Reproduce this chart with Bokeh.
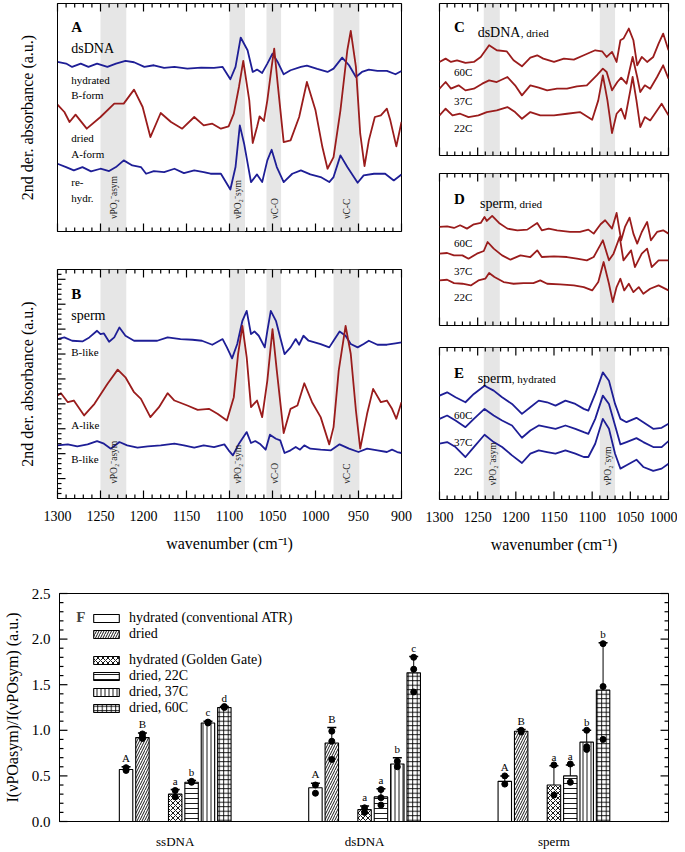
from bokeh.plotting import figure
from bokeh.layouts import column, row
from bokeh.models import (Range1d, FixedTicker, NumeralTickFormatter, BoxAnnotation, Label,
                          Legend, LegendItem, Whisker, TeeHead, ColumnDataSource)
from bokeh.core.properties import value
from bokeh.embed import file_html
from bokeh.resources import INLINE

FONT = "Liberation Serif"
BLUE = "#1e1e96"
RED = "#9a1c1c"
BAND = "#e6e6e6"

# ------------------------------------------------------------------ data: panel A (dsDNA)
A_HYD_WN = [1300, 1290, 1283, 1273, 1264, 1254, 1242, 1232, 1221, 1211, 1199, 1188, 1176, 1164, 1149,
            1133, 1118, 1108, 1099, 1093, 1087, 1079, 1073, 1068, 1062, 1056, 1050, 1044, 1037, 1029,
            1017, 1010, 998, 986, 979, 969, 961, 953, 946, 938, 928, 917, 907, 900]
A_HYD = [51.5, 51.0, 50.0, 51.0, 50.0, 51.0, 50.0, 51.0, 51.8, 51.4, 50.0, 50.5, 49.7, 50.0, 49.5,
         49.8, 49.7, 50.0, 46.3, 50.0, 58.8, 55.0, 48.5, 49.2, 48.2, 51.0, 54.0, 51.5, 47.8, 49.0,
         50.0, 50.4, 49.4, 48.5, 49.5, 52.8, 50.5, 47.0, 48.5, 49.2, 48.8, 48.8, 47.8, 48.8]
A_DRY_WN = [1300, 1292, 1286, 1279, 1266, 1250, 1234, 1223, 1211, 1201, 1192, 1180, 1168, 1155, 1141,
            1130, 1120, 1110, 1101, 1095, 1089, 1084, 1077, 1073, 1068, 1065, 1060, 1056, 1051, 1048,
            1044, 1037, 1029, 1019, 1010, 1000, 992, 986, 979, 971, 963, 959, 953, 948, 943, 938,
            931, 924, 917, 913, 906, 900]
A_DRY = [38.7, 36.5, 33.5, 35.7, 31.5, 35.0, 39.0, 39.0, 43.2, 38.0, 29.0, 36.2, 33.5, 31.5, 35.0,
         32.5, 33.0, 31.5, 32.2, 36.0, 44.0, 51.8, 40.0, 27.2, 32.0, 35.2, 33.8, 40.0, 50.0, 55.5,
         45.0, 27.5, 28.0, 35.0, 45.5, 37.0, 26.0, 19.5, 23.0, 37.0, 55.0, 60.8, 50.0, 30.0, 20.3, 28.0,
         35.0, 35.5, 37.5, 34.0, 26.2, 33.5]
A_REH_WN = [1300, 1290, 1281, 1271, 1261, 1250, 1240, 1232, 1223, 1213, 1203, 1197, 1188, 1176, 1164,
            1153, 1141, 1130, 1122, 1110, 1099, 1093, 1088, 1083, 1075, 1068, 1062, 1056, 1051, 1045,
            1037, 1027, 1017, 1006, 994, 984, 979, 971, 963, 951, 944, 932, 919, 909, 900]
A_REH = [21.0, 20.0, 19.0, 20.0, 18.7, 19.5, 18.8, 20.0, 22.0, 20.5, 20.0, 18.0, 18.8, 18.5, 19.5,
         18.2, 19.0, 18.5, 18.0, 18.0, 13.3, 20.0, 32.5, 27.0, 15.5, 17.8, 15.5, 22.0, 25.2, 20.0,
         15.5, 18.0, 19.0, 17.8, 17.0, 15.5, 17.0, 23.5, 20.0, 15.3, 17.5, 18.0, 18.0, 16.0, 17.8]

# ------------------------------------------------------------------ data: panel B (sperm)
B_HYD1_WN = [1300, 1292, 1283, 1271, 1263, 1254, 1250, 1246, 1240, 1234, 1228, 1221, 1211, 1195, 1184,
             1172, 1157, 1143, 1132, 1120, 1108, 1103, 1097, 1091, 1085, 1080, 1075, 1071, 1066, 1059,
             1056, 1052, 1046, 1041, 1036, 1029, 1023, 1019, 1014, 1008, 994, 984, 979, 972, 965,
             959, 951, 944, 938, 928, 917, 907, 900]
B_HYD1 = [49.5, 50.0, 49.0, 48.8, 50.0, 52.0, 51.0, 51.2, 48.7, 50.0, 53.0, 50.5, 49.0, 49.0, 49.0,
          50.0, 49.5, 49.3, 49.0, 47.8, 49.5, 47.0, 43.7, 48.0, 55.0, 58.0, 51.0, 51.8, 50.5, 47.0,
          52.0, 58.0, 55.0, 50.0, 45.0, 47.0, 49.5, 47.8, 50.5, 49.0, 48.0, 47.0, 49.0, 51.8, 50.5,
          48.0, 47.0, 48.0, 49.0, 47.8, 47.8, 48.2, 48.5]
B_DRY_WN = [1300, 1296, 1288, 1281, 1269, 1257, 1242, 1230, 1221, 1211, 1203, 1192, 1182, 1172, 1164,
            1149, 1137, 1124, 1114, 1103, 1095, 1090, 1085, 1080, 1075, 1068, 1062, 1056, 1050, 1045,
            1037, 1029, 1021, 1013, 1004, 994, 984, 979, 973, 965, 959, 953, 948, 940, 933,
            924, 917, 911, 906, 900]
B_DRY = [32.5, 33.2, 30.5, 31.0, 26.5, 30.0, 36.0, 40.3, 38.0, 33.5, 31.5, 26.0, 29.0, 33.2, 31.0,
         29.5, 28.2, 28.5, 27.0, 25.0, 32.0, 45.0, 53.5, 44.0, 29.0, 31.0, 26.0, 37.0, 52.5, 40.0,
         21.2, 28.5, 29.5, 36.2, 30.5, 26.0, 17.8, 23.0, 40.0, 53.5, 45.0, 28.0, 16.5, 27.0, 34.5,
         30.5, 31.0, 28.5, 25.5, 30.5]
B_HYD2_WN = [1300, 1288, 1277, 1265, 1254, 1246, 1238, 1228, 1219, 1207, 1195, 1180, 1164, 1153, 1141,
             1130, 1118, 1106, 1101, 1096, 1089, 1080, 1075, 1070, 1064, 1058, 1053, 1046, 1041, 1036,
             1029, 1023, 1018, 1013, 1006, 994, 982, 972, 961, 950, 940, 928, 917, 911, 905, 900]
B_HYD2 = [17.5, 17.8, 17.2, 17.8, 18.8, 18.0, 16.5, 18.5, 17.5, 16.8, 17.2, 17.5, 18.0, 17.5, 16.8,
          17.5, 17.0, 17.8, 16.0, 14.5, 18.0, 21.5, 18.2, 18.8, 17.8, 16.2, 20.7, 19.5, 19.0, 15.2,
          16.0, 17.0, 16.2, 17.5, 16.5, 16.2, 16.0, 17.8, 16.5, 15.5, 16.5, 16.0, 15.5, 16.2, 15.5, 15.2]

# ------------------------------------------------------------------ data: panel C (dsDNA, dried)
C60_WN = [1300, 1292, 1285, 1277, 1266, 1255, 1246, 1235, 1225, 1212, 1203, 1192, 1181, 1172, 1164,
          1150, 1137, 1124, 1111, 1096, 1087, 1081, 1074, 1068, 1063, 1059, 1052, 1046, 1041, 1035,
          1028, 1020, 1013, 1007, 1000]
C60 = [31.5, 32.5, 31.5, 32.0, 31.2, 31.5, 33.0, 36.5, 35.0, 34.7, 32.0, 30.2, 32.8, 33.5, 32.5,
       31.5, 32.5, 32.2, 33.5, 35.0, 34.7, 33.0, 34.5, 31.5, 38.0, 38.5, 41.5, 38.0, 30.5, 33.0,
       31.5, 33.0, 37.0, 40.0, 35.0]
C37_WN = [1300, 1292, 1285, 1275, 1266, 1255, 1244, 1235, 1225, 1211, 1201, 1192, 1181, 1170, 1159,
          1146, 1133, 1120, 1107, 1094, 1086, 1081, 1074, 1067, 1062, 1055, 1047, 1041, 1037, 1031,
          1024, 1015, 1007, 1000]
C37 = [23.5, 25.5, 23.5, 24.5, 23.0, 23.5, 25.0, 26.0, 25.5, 27.0, 24.5, 21.5, 24.5, 23.8, 23.0,
       23.5, 23.5, 24.2, 24.5, 27.5, 29.5, 28.5, 23.0, 25.5, 26.8, 25.0, 33.0, 27.0, 22.5, 24.5,
       23.5, 27.0, 30.5, 26.5]
C22_WN = [1300, 1292, 1283, 1273, 1262, 1249, 1238, 1225, 1211, 1201, 1192, 1181, 1168, 1150, 1133,
          1116, 1100, 1092, 1086, 1080, 1074, 1068, 1062, 1057, 1050, 1047, 1042, 1037, 1031, 1024,
          1015, 1009, 1000]
C22 = [15.5, 17.5, 15.5, 16.0, 15.0, 15.5, 16.5, 17.0, 18.0, 16.5, 14.5, 16.5, 15.5, 15.5, 16.0,
       16.5, 14.2, 20.0, 27.5, 20.0, 10.2, 16.0, 17.5, 14.5, 23.0, 27.0, 20.0, 12.0, 15.0, 14.0,
       17.0, 19.0, 15.5]

# ------------------------------------------------------------------ data: panel D (sperm, dried)
D60_WN = [1300, 1290, 1281, 1273, 1264, 1255, 1246, 1241, 1238, 1231, 1222, 1211, 1198, 1185, 1172,
          1166, 1157, 1146, 1129, 1116, 1105, 1098, 1089, 1083, 1074, 1068, 1062, 1057, 1051, 1046,
          1041, 1035, 1028, 1023, 1015, 1007, 1000]
D60 = [32.0, 32.2, 31.7, 32.5, 31.5, 32.8, 33.2, 35.0, 33.8, 35.3, 33.2, 31.5, 31.0, 31.2, 33.2,
       31.0, 31.5, 31.0, 30.5, 30.5, 31.2, 30.0, 32.8, 34.0, 31.5, 36.2, 28.0, 32.0, 34.8, 30.0,
       27.0, 30.5, 33.5, 28.0, 30.5, 31.0, 30.0]
D37_WN = [1300, 1290, 1281, 1270, 1262, 1251, 1242, 1237, 1229, 1218, 1207, 1194, 1181, 1172, 1166,
          1150, 1133, 1120, 1107, 1098, 1086, 1078, 1072, 1064, 1059, 1054, 1049, 1044, 1035, 1028,
          1022, 1013, 1000]
D37 = [24.0, 24.2, 23.5, 23.5, 22.5, 24.0, 24.8, 27.5, 25.5, 23.5, 22.2, 23.5, 23.0, 25.0, 23.0,
       23.2, 23.0, 22.5, 22.0, 23.0, 28.0, 22.0, 24.0, 29.0, 22.0, 23.5, 25.0, 20.0, 24.0, 25.5,
       20.0, 22.0, 22.0]
D22_WN = [1300, 1290, 1281, 1270, 1259, 1249, 1240, 1235, 1228, 1216, 1203, 1190, 1177, 1168, 1159,
          1142, 1124, 1111, 1100, 1092, 1085, 1078, 1073, 1068, 1063, 1058, 1052, 1046, 1039, 1033,
          1024, 1013, 1000]
D22 = [16.0, 16.2, 15.2, 15.0, 14.5, 16.0, 16.5, 18.2, 17.0, 15.5, 15.0, 15.2, 15.2, 16.0, 15.0,
       14.8, 14.5, 14.0, 13.0, 15.5, 21.5, 15.0, 9.5, 14.0, 16.5, 13.0, 15.0, 12.5, 14.0, 12.0,
       13.5, 14.5, 13.0]

# ------------------------------------------------------------------ data: panel E (sperm, hydrated)
E_WN = [1300, 1290, 1279, 1266, 1255, 1241, 1229, 1218, 1205, 1192, 1181, 1170, 1159, 1148, 1135,
        1122, 1111, 1105, 1096, 1086, 1078, 1070, 1063, 1055, 1042, 1033, 1020, 1009, 1000]
E60 = [31.5, 32.5, 31.0, 29.5, 32.0, 34.5, 33.0, 31.0, 29.0, 26.0, 28.0, 30.0, 29.5, 28.5, 30.0,
       29.0, 27.5, 27.0, 32.0, 38.5, 36.0, 29.0, 24.5, 23.5, 24.8, 23.5, 21.5, 21.8, 23.0]
E37 = [24.5, 25.5, 24.0, 22.0, 24.5, 27.5, 25.5, 24.0, 22.5, 18.8, 21.0, 22.5, 22.0, 21.5, 22.5,
       21.5, 20.5, 20.0, 24.5, 31.5, 29.0, 22.5, 16.8, 17.5, 18.7, 17.5, 16.0, 16.0, 17.8]
E22 = [17.0, 17.5, 16.0, 13.0, 16.0, 19.7, 17.5, 16.0, 13.5, 11.2, 14.0, 15.0, 14.5, 14.0, 15.0,
       14.0, 13.0, 13.0, 17.0, 24.5, 21.5, 14.0, 9.5, 10.5, 12.2, 10.0, 8.8, 9.5, 11.0]

# marker bands (cm-1)
BANDS_AB = [(1250, 1220), (1100, 1082), (1057, 1040), (979, 949)]
BAND_TXT_AB = ["νPO₂⁻asym", "νPO₂⁻sym", "νC-O", "νC-C"]
BANDS_CDE = [(1242, 1221), (1090, 1070)]
BAND_TXT_E = ["νPO₂⁻asym", "νPO₂⁻sym"]
WN_TICK_LABELS_AB = [1300, 1250, 1200, 1150, 1100, 1050, 1000, 950, 900]
WN_TICK_LABELS_CDE = [1300, 1250, 1200, 1150, 1100, 1050, 1000]

# ------------------------------------------------------------------ data: panel F
CATEGORIES = ["ssDNA", "dsDNA", "sperm"]
CONDITIONS = ["hydrated (conventional ATR)", "dried", "hydrated (Golden Gate)",
              "dried, 22C", "dried, 37C", "dried, 60C"]
MEANS = [[0.57, 0.37, 0.44],
         [0.92, 0.86, 0.99],
         [0.30, 0.13, 0.40],
         [0.43, 0.27, 0.50],
         [1.08, 0.63, 0.87],
         [1.25, 1.63, 1.44]]
UPPER = [[0.60, 0.42, 0.50],
         [0.97, 1.03, 1.01],
         [0.35, 0.17, 0.61],
         [0.45, 0.36, 0.62],
         [1.10, 0.70, 1.00],
         [1.26, 1.81, 1.96]]
POINTS = [[[0.59, 0.56], [0.40, 0.31], [0.50, 0.41]],
          [[0.96, 0.91, 0.93], [0.99, 0.88, 0.68], [1.00, 0.98]],
          [[0.34, 0.27], [0.15, 0.10], [0.62, 0.29]],
          [[0.44, 0.43], [0.35, 0.26, 0.18], [0.63, 0.43]],
          [[1.09, 1.08], [0.66, 0.60], [1.00, 0.82, 0.79]],
          [[1.26, 1.25], [1.80, 1.67, 1.42], [1.95, 1.48, 0.90]]]
LETTERS = [["A", "A", "A"],
           ["B", "B", "B"],
           ["a", "a", "a"],
           ["b", "a", "a"],
           ["c", "b", "b"],
           ["d", "c", "b"]]
F_YTICKS = [0.0, 0.5, 1.0, 1.5, 2.0, 2.5]

# ------------------------------------------------------------------ styling helpers
SLOTS = [-3, -2, 0, 1, 2, 3]
PITCH = 0.0865
BAR_W = 0.071
HATCH = [(" ", 6), ("/", 5), ("x", 5), ("-", 5), ("|", 4), ("+", 4.5)]
MAJ_PX, MIN_PX = 8, 4   # inward tick lengths in pixels
TICK_W = 1.2


def edge_ticks(p, positions, rng, frame_px, edge_is_start, vertical, length_px,
               color="black", width=TICK_W):
    """short inward tick segments on a frame edge; rng = range (start, end) across the edge"""
    if not positions:
        return
    start, end = rng
    per_px = (end - start) / frame_px
    e0 = start if edge_is_start else end
    e1 = e0 + (length_px * per_px if edge_is_start else -length_px * per_px)
    n = len(positions)
    if vertical:
        src = ColumnDataSource(dict(x0=positions, y0=[e0] * n, x1=positions, y1=[e1] * n))
    else:
        src = ColumnDataSource(dict(x0=[e0] * n, y0=positions, x1=[e1] * n, y1=positions))
    p.segment(x0="x0", y0="y0", x1="x1", y1="y1", source=src,
              line_color=color, line_width=width, level="overlay")


def wn_ticks(p, xr, yr, frame_h):
    lo, hi = int(min(xr)), int(max(xr))
    major = [v for v in range(lo, hi + 1, 50)]
    minor = [v for v in range(lo, hi + 1, 10) if v % 50 != 0]
    for at_start in (True, False):
        edge_ticks(p, major, yr, frame_h, at_start, True, MAJ_PX)
        edge_ticks(p, minor, yr, frame_h, at_start, True, MIN_PX)


def style_bottom(ax, labels):
    ax.major_tick_line_color = None
    ax.minor_tick_line_color = None
    ax.major_tick_in = 0
    ax.major_tick_out = 0
    ax.minor_tick_in = 0
    ax.minor_tick_out = 0
    ax.axis_line_color = "black"
    ax.ticker = FixedTicker(ticks=labels)
    ax.major_label_text_font = FONT
    ax.major_label_text_font_size = "14px"
    ax.major_label_text_color = "black"
    ax.major_label_standoff = 12
    ax.axis_label = "wavenumber (cm⁻¹)"
    ax.axis_label_text_font = FONT
    ax.axis_label_text_font_size = "16px"
    ax.axis_label_text_font_style = "normal"
    ax.axis_label_text_color = "black"
    ax.axis_label_standoff = 11


def spec_fig(w, h, bl, br, bt, bb, xr, yr, xlabels=None, ylabel=None):
    p = figure(width=w, height=h, x_range=Range1d(*xr), y_range=Range1d(*yr),
               output_backend="svg", toolbar_location=None,
               min_border_left=bl, min_border_right=br, min_border_top=bt, min_border_bottom=bb)
    p.grid.visible = False
    p.outline_line_color = "black"
    p.outline_line_width = 1
    p.background_fill_color = None
    p.border_fill_color = None
    if xlabels is None:
        p.xaxis.visible = False
    else:
        style_bottom(p.xaxis[0], xlabels)
    ya = p.yaxis[0]
    if ylabel is None:
        ya.visible = False
    else:
        ya.axis_line_color = "black"
        ya.major_tick_line_color = None
        ya.minor_tick_line_color = None
        ya.major_tick_in = 0
        ya.major_tick_out = 0
        ya.minor_tick_in = 0
        ya.minor_tick_out = 0
        ya.ticker = FixedTicker(ticks=[])
        ya.major_label_text_font_size = "0px"
        ya.major_label_standoff = 0
        ya.axis_label = ylabel
        ya.axis_label_text_font = FONT
        ya.axis_label_text_font_size = "16px"
        ya.axis_label_text_font_style = "normal"
        ya.axis_label_text_color = "black"
        ya.axis_label_standoff = 22
    wn_ticks(p, xr, yr, h - bt - bb)
    return p


def add_bands(p, bands):
    for lo_hi in bands:
        p.add_layout(BoxAnnotation(left=lo_hi[0], right=lo_hi[1], fill_color=BAND, fill_alpha=1.0,
                                   line_color=None, level="underlay"))


def add_band_text(p, bands, texts, y):
    for (a, b), t in zip(bands, texts):
        p.add_layout(Label(x=(a + b) / 2, y=y, text=t, angle=90, angle_units="deg",
                           text_align="left", text_baseline="middle", x_offset=1,
                           text_font=FONT, text_font_size="9.5px", text_color="#222222"))


def add_text(p, x, y, t, size="11px", bold=False, baseline="middle", x_offset=0):
    p.add_layout(Label(x=x, y=y, text=t, text_font=FONT, text_font_size=size,
                       text_font_style="bold" if bold else "normal", text_baseline=baseline,
                       text_align="left", text_color="black", x_offset=x_offset))


def draw(p, wn, ys, color):
    p.line(wn, ys, line_color=color, line_width=1.8, line_join="round")


YLAB = "2nd der. absorbance (a.u.)"

# ------------------------------------------------------------------ panel A
pA = spec_fig(420, 254, 57, 19, 8, 18, (1300, 900), (0.7, 69.0), ylabel=YLAB)
add_bands(pA, BANDS_AB)
draw(pA, A_HYD_WN, A_HYD, BLUE)
draw(pA, A_DRY_WN, A_DRY, RED)
draw(pA, A_REH_WN, A_REH, BLUE)
add_band_text(pA, BANDS_AB, BAND_TXT_AB, 4.5)
add_text(pA, 1284, 61.9, "A", "15px", bold=True)
add_text(pA, 1284, 55.5, "dsDNA", "14px")
add_text(pA, 1284, 46.2, "hydrated")
add_text(pA, 1284, 41.5, "B-form")
add_text(pA, 1284, 28.7, "dried")
add_text(pA, 1284, 23.8, "A-form")
add_text(pA, 1284, 15.5, "re-")
add_text(pA, 1284, 10.8, "hydr.")

# ------------------------------------------------------------------ panel B
B_XR = (1300, 900)
B_YR = (1.5, 70.45)
pB = spec_fig(420, 316, 57, 19, 20, 67, B_XR, B_YR, xlabels=WN_TICK_LABELS_AB, ylabel=YLAB)
edge_ticks(pB, [7.5 * k for k in range(1, 10)], B_XR, 344, True, False, MAJ_PX)
edge_ticks(pB, [1.5 * k for k in range(2, 47) if k % 5 != 0], B_XR, 344, True, False, MIN_PX)
add_bands(pB, BANDS_AB)
draw(pB, B_HYD1_WN, B_HYD1, BLUE)
draw(pB, B_DRY_WN, B_DRY, RED)
draw(pB, B_HYD2_WN, B_HYD2, BLUE)
add_band_text(pB, BANDS_AB, BAND_TXT_AB, 6.0)
add_text(pB, 1284, 63.0, "B", "15px", bold=True)
add_text(pB, 1284, 56.5, "sperm", "14px")
add_text(pB, 1284, 45.7, "B-like")
add_text(pB, 1284, 23.5, "A-like")
add_text(pB, 1284, 13.5, "B-like")

# ------------------------------------------------------------------ panel C
pC = spec_fig(257, 169, 19, 9, 8, 9, (1300, 1000), (3.5, 49.0))
add_bands(pC, BANDS_CDE)
draw(pC, C60_WN, C60, RED)
draw(pC, C37_WN, C37, RED)
draw(pC, C22_WN, C22, RED)
add_text(pC, 1281, 42.0, "C", "15px", bold=True)
add_text(pC, 1250, 40.3, "dsDNA", "14px", baseline="alphabetic")
add_text(pC, 1250, 40.3, ", dried", "11px", baseline="alphabetic", x_offset=43)
add_text(pC, 1281, 28.5, "60C")
add_text(pC, 1281, 19.8, "37C")
add_text(pC, 1281, 11.7, "22C")

# ------------------------------------------------------------------ panel D
pD = spec_fig(257, 172, 19, 9, 9, 11, (1300, 1000), (2.5, 48.0))
add_bands(pD, BANDS_CDE)
draw(pD, D60_WN, D60, RED)
draw(pD, D37_WN, D37, RED)
draw(pD, D22_WN, D22, RED)
add_text(pD, 1281, 40.5, "D", "15px", bold=True)
add_text(pD, 1247, 39.0, "sperm", "14px", baseline="alphabetic")
add_text(pD, 1247, 39.0, ", dried", "11px", baseline="alphabetic", x_offset=34)
add_text(pD, 1281, 27.3, "60C")
add_text(pD, 1281, 18.8, "37C")
add_text(pD, 1281, 11.0, "22C")

# ------------------------------------------------------------------ panel E
pE = spec_fig(257, 229, 19, 9, 11, 66, (1300, 1000), (0.2, 46.0), xlabels=WN_TICK_LABELS_CDE)
add_bands(pE, BANDS_CDE)
draw(pE, E_WN, E60, BLUE)
draw(pE, E_WN, E37, BLUE)
draw(pE, E_WN, E22, BLUE)
add_band_text(pE, BANDS_CDE, BAND_TXT_E, 4.5)
add_text(pE, 1281, 38.2, "E", "15px", bold=True)
add_text(pE, 1250, 36.6, "sperm", "14px", baseline="alphabetic")
add_text(pE, 1250, 36.6, ", hydrated", "11px", baseline="alphabetic", x_offset=34)
add_text(pE, 1281, 25.8, "60C")
add_text(pE, 1281, 17.5, "37C")
add_text(pE, 1281, 8.8, "22C")

# ------------------------------------------------------------------ panel F
F_XR = (0.389, 3.605)
F_YR = (0.0, 2.5)
pF = figure(width=677, height=286, x_range=Range1d(*F_XR), y_range=Range1d(*F_YR),
            output_backend="svg", toolbar_location=None,
            min_border_left=56, min_border_right=9, min_border_top=28, min_border_bottom=28)
pF.grid.visible = False
pF.outline_line_color = "black"
pF.background_fill_color = None
pF.border_fill_color = None

xa = pF.xaxis[0]
xa.ticker = FixedTicker(ticks=[1, 2, 3])
xa.major_label_overrides = {1: CATEGORIES[0], 2: CATEGORIES[1], 3: CATEGORIES[2]}
xa.major_tick_line_color = None
xa.minor_tick_line_color = None
xa.major_tick_out = 0
xa.major_tick_in = 0
xa.minor_tick_out = 0
xa.minor_tick_in = 0
xa.axis_line_color = "black"
xa.major_label_text_font = FONT
xa.major_label_text_font_size = "13px"
xa.major_label_text_color = "black"
xa.major_label_standoff = 12

ya = pF.yaxis[0]
ya.ticker = FixedTicker(ticks=F_YTICKS)
ya.formatter = NumeralTickFormatter(format="0.0")
ya.major_tick_line_color = None
ya.minor_tick_line_color = None
ya.major_tick_in = 0
ya.major_tick_out = 0
ya.minor_tick_in = 0
ya.minor_tick_out = 0
ya.axis_line_color = "black"
ya.major_label_text_font = FONT
ya.major_label_text_font_size = "15px"
ya.major_label_text_color = "black"
ya.major_label_standoff = 9
ya.axis_label = "I(νPOasym)/I(νPOsym) (a.u.)"
ya.axis_label_text_font = FONT
ya.axis_label_text_font_size = "16px"
ya.axis_label_text_font_style = "normal"
ya.axis_label_text_color = "black"
ya.axis_label_standoff = 8

f_minor = [k / 10 for k in range(1, 25) if k % 5 != 0]
for at_start in (True, False):
    edge_ticks(pF, F_YTICKS, F_XR, 612, at_start, False, MAJ_PX)
    edge_ticks(pF, f_minor, F_XR, 612, at_start, False, MIN_PX)

renderers = []
for ci, cond in enumerate(CONDITIONS):
    xs = [g + 1 + SLOTS[ci] * PITCH for g in range(len(CATEGORIES))]
    pat, sc = HATCH[ci]
    src = ColumnDataSource(dict(x=xs, top=MEANS[ci], upper=UPPER[ci], lower=MEANS[ci],
                                ty=[u + 0.03 for u in UPPER[ci]], lab=LETTERS[ci]))
    r = pF.vbar(x="x", top="top", width=BAR_W, bottom=0, source=src, fill_color="white",
                line_color="black", line_width=1.1, hatch_pattern=pat, hatch_color="black",
                hatch_scale=sc, hatch_weight=0.9)
    renderers.append(r)
    pF.add_layout(Whisker(source=src, base="x", upper="upper", lower="lower", dimension="height",
                          line_color="black", line_width=1,
                          upper_head=TeeHead(size=9, line_color="black", line_width=1.5),
                          lower_head=None, level="glyph"))
    px, py = [], []
    for g, pts in enumerate(POINTS[ci]):
        for v in pts:
            px.append(xs[g])
            py.append(v)
    pF.scatter(px, py, size=6, fill_color="black", line_color="black")
    pF.text(x="x", y="ty", text="lab", source=src, text_align="center", text_baseline="bottom",
            text_font=value(FONT), text_font_size="11px", text_color="black")

leg1 = Legend(items=[LegendItem(label=CONDITIONS[0], renderers=[renderers[0]]),
                     LegendItem(label=CONDITIONS[1], renderers=[renderers[1]])],
              location=(31, 179))
leg2 = Legend(items=[LegendItem(label=CONDITIONS[i], renderers=[renderers[i]]) for i in range(2, 6)],
              location=(31, 105))
for lg in (leg1, leg2):
    lg.glyph_width = 32
    lg.glyph_height = 10
    lg.label_height = 14
    lg.label_standoff = 7
    lg.spacing = -1
    lg.padding = 0
    lg.margin = 0
    lg.border_line_color = None
    lg.background_fill_alpha = 0
    lg.label_text_font = FONT
    lg.label_text_font_size = "14px"
    lg.label_text_color = "black"
    pF.add_layout(lg)

pF.add_layout(Label(x=0.478, y=2.24, text="F", text_font=FONT, text_font_size="15px",
                    text_font_style="bold", text_baseline="middle", text_align="left"))

layout = column(row(column(pA, pB), column(pC, pD, pE)), pF, margin=(-5, 0, 0, 0))

open("out.html", "w").write(file_html(layout, INLINE))
